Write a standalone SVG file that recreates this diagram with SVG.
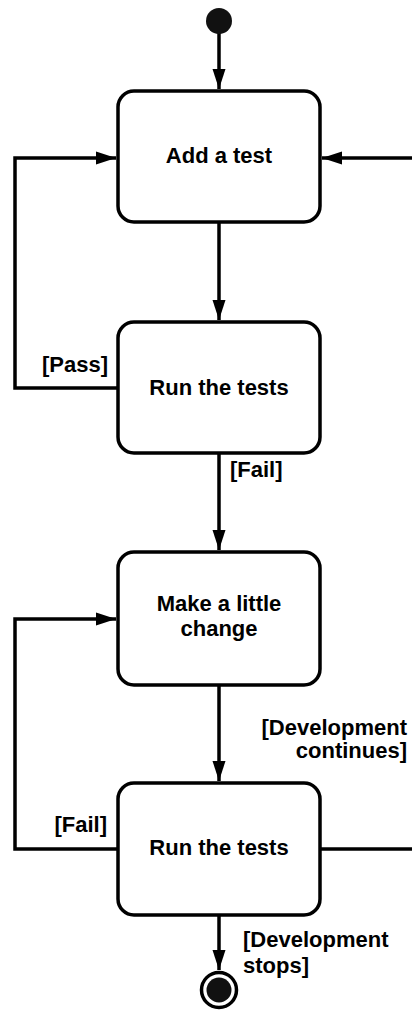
<svg xmlns="http://www.w3.org/2000/svg" width="412" height="1011" viewBox="0 0 412 1011">
<style>
.node{fill:#fff;stroke:#000;stroke-width:3.5}
.lbl{font-family:"Liberation Sans",Arial,sans-serif;font-weight:bold;font-size:22px;fill:#000}
.c{stroke:#000;stroke-width:3.5;fill:none}
</style>
<defs>
<marker id="ah" markerUnits="userSpaceOnUse" markerWidth="22" markerHeight="14" refX="20" refY="7" orient="auto">
<path d="M0,0.5 L20,7 L0,13.5 Z" fill="#000"/>
</marker>
</defs>
<g id="connectors">
<path class="c" d="M219,33 V89" marker-end="url(#ah)"/>
<path class="c" d="M219,222 V320" marker-end="url(#ah)"/>
<path class="c" d="M219,453 V550" marker-end="url(#ah)"/>
<path class="c" d="M219,685 V781" marker-end="url(#ah)"/>
<path class="c" d="M219,915 V970" marker-end="url(#ah)"/>
<path class="c" d="M118,388 H15 V158 H116" marker-end="url(#ah)"/>
<path class="c" d="M412,158 H322" marker-end="url(#ah)"/>
<path class="c" d="M118,849 H15 V619 H116" marker-end="url(#ah)"/>
<path class="c" d="M320,849 H412"/>
</g>
<g id="start"><circle cx="219" cy="21" r="13" fill="#111"/></g>
<g id="add-test">
<rect class="node" x="118" y="91" width="202" height="131" rx="16"/>
<text class="lbl" x="219" y="163" text-anchor="middle">Add a test</text>
</g>
<g id="run-tests-1">
<rect class="node" x="118" y="322" width="202" height="131" rx="16"/>
<text class="lbl" x="219" y="395" text-anchor="middle">Run the tests</text>
</g>
<g id="make-change">
<rect class="node" x="118" y="552" width="202" height="133" rx="16"/>
<text class="lbl" x="219" y="611" text-anchor="middle">Make a little</text>
<text class="lbl" x="219" y="636" text-anchor="middle">change</text>
</g>
<g id="run-tests-2">
<rect class="node" x="118" y="783" width="202" height="132" rx="16"/>
<text class="lbl" x="219" y="855" text-anchor="middle">Run the tests</text>
</g>
<g id="end">
<circle cx="219" cy="990" r="17.5" fill="#fff" stroke="#000" stroke-width="3.5"/>
<circle cx="219" cy="990" r="12.5" fill="#111"/>
</g>
<g id="labels">
<text class="lbl" x="108" y="372" text-anchor="end">[Pass]</text>
<text class="lbl" x="230" y="477">[Fail]</text>
<text class="lbl" x="407" y="735" text-anchor="end">[Development</text>
<text class="lbl" x="407" y="758" text-anchor="end">continues]</text>
<text class="lbl" x="107" y="832" text-anchor="end">[Fail]</text>
<text class="lbl" x="243" y="947">[Development</text>
<text class="lbl" x="243" y="973">stops]</text>
</g>
</svg>
